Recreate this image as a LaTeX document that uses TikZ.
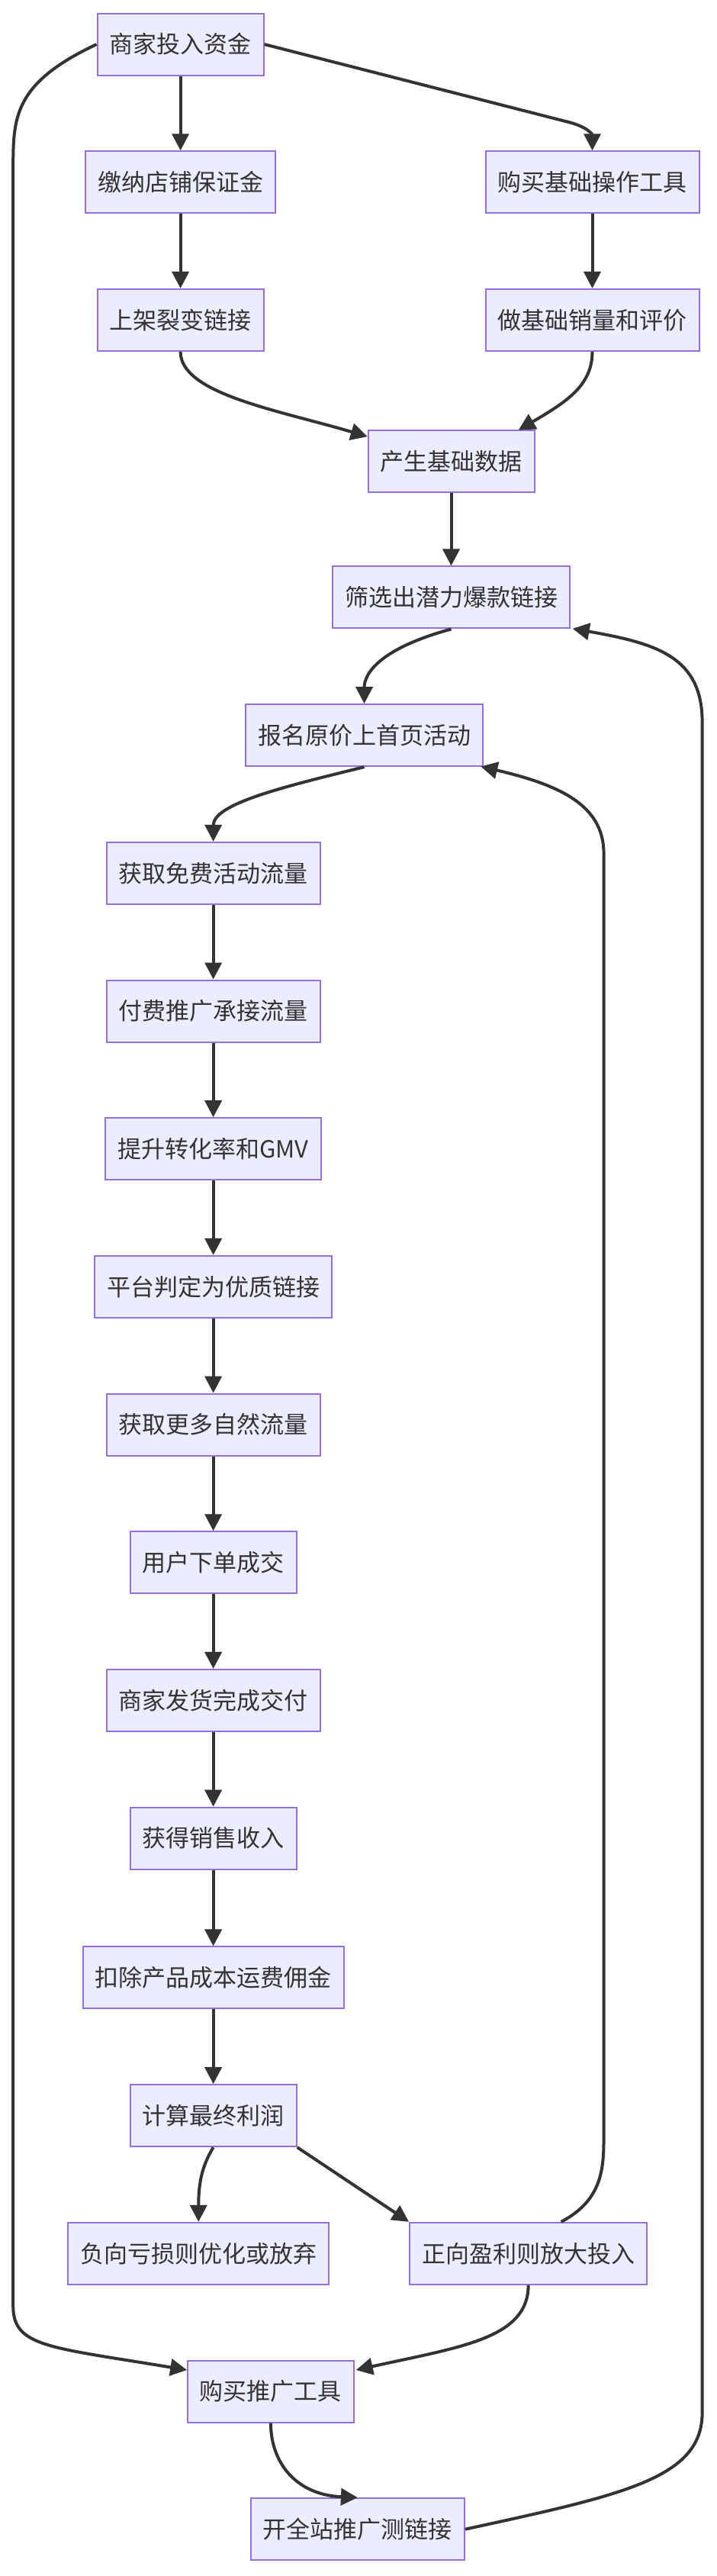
\documentclass[tikz,border=0pt]{standalone}
\usepackage{fontspec}
\setmainfont{Noto Sans CJK SC}
\usetikzlibrary{arrows.meta}
\definecolor{nfill}{HTML}{ECECFF}
\definecolor{nstroke}{HTML}{9370DB}
\definecolor{ink}{HTML}{333333}
\begin{document}
\begin{tikzpicture}[x=1.0755pt,y=-1.0755pt,
  box/.style={draw=nstroke,fill=nfill,line width=1pt,text=ink,font=\fontsize{15.5pt}{18pt}\selectfont,minimum height=40.5pt,inner xsep=8pt,inner ysep=0pt},
  ar/.style={draw=ink,line width=2pt,-{Triangle[length=11pt,width=11pt]}}]
\useasboundingbox[fill=white] (0,0) rectangle (437,1569.5);
\node[box] (n1) at (110,27) {商家投入资金};
\node[box] (n2) at (110,111) {缴纳店铺保证金};
\node[box] (n3) at (361,111) {购买基础操作工具};
\node[box] (n4) at (110,195) {上架裂变链接};
\node[box] (n5) at (361,195) {做基础销量和评价};
\node[box] (n6) at (275,281) {产生基础数据};
\node[box] (n7) at (275,364) {筛选出潜力爆款链接};
\node[box] (n8) at (222,448) {报名原价上首页活动};
\node[box] (n9) at (130,532) {获取免费活动流量};
\node[box] (n10) at (130,616) {付费推广承接流量};
\node[box] (n11) at (130,700) {提升转化率和GMV};
\node[box] (n12) at (130,784) {平台判定为优质链接};
\node[box] (n13) at (130,868) {获取更多自然流量};
\node[box] (n14) at (130,952) {用户下单成交};
\node[box] (n15) at (130,1036) {商家发货完成交付};
\node[box] (n16) at (130,1120) {获得销售收入};
\node[box] (n17) at (130,1205) {扣除产品成本运费佣金};
\node[box] (n18) at (130,1289) {计算最终利润};
\node[box] (n19) at (121,1373) {负向亏损则优化或放弃};
\node[box] (n20) at (322,1373) {正向盈利则放大投入};
\node[box] (n21) at (165,1457) {购买推广工具};
\node[box] (n22) at (218,1541) {开全站推广测链接};
\draw[ar] (n1) -- (n2);
\draw[ar] (n1.east) -- (345,74) .. controls (358,77) and (361,82) .. (n3.north);
\draw[ar] (n1.west) .. controls (10,50) and (8,70) .. (8,100) -- (8,1405) .. controls (8,1430) and (30,1430) .. (114,1444);
\draw[ar] (n2) -- (n4);
\draw[ar] (n3) -- (n5);
\draw[ar] (n4.south) .. controls (110,240) and (170,250) .. (224,266);
\draw[ar] (n5.south) .. controls (361,235) and (345,245) .. (316,262);
\draw[ar] (n6) -- (n7);
\draw[ar] (n7.south) .. controls (232,395) and (222,410) .. (n8.north);
\draw[ar] (n8.south) .. controls (170,480) and (130,490) .. (n9.north);
\draw[ar] (n9) -- (n10);
\draw[ar] (n10) -- (n11);
\draw[ar] (n11) -- (n12);
\draw[ar] (n12) -- (n13);
\draw[ar] (n13) -- (n14);
\draw[ar] (n14) -- (n15);
\draw[ar] (n15) -- (n16);
\draw[ar] (n16) -- (n17);
\draw[ar] (n17) -- (n18);
\draw[ar] (n18.south) .. controls (123,1320) and (121,1330) .. (n19.north);
\draw[ar] (n18.south east) -- (n20.north west);
\draw[ar] (n20.north) ++(20,0) .. controls (368,1340) and (368,1320) .. (368,1300) -- (368,520) .. controls (368,490) and (340,478) .. (293,467);
\draw[ar] (n20.south) .. controls (322,1425) and (280,1430) .. (217,1444);
\draw[ar] (n21.south) .. controls (165,1500) and (180,1520) .. (n22.north);
\draw[ar] (n22.east) .. controls (380,1520) and (428,1510) .. (428,1470) -- (428,440) .. controls (428,400) and (400,392) .. (349,383);
\end{tikzpicture}
\end{document}
